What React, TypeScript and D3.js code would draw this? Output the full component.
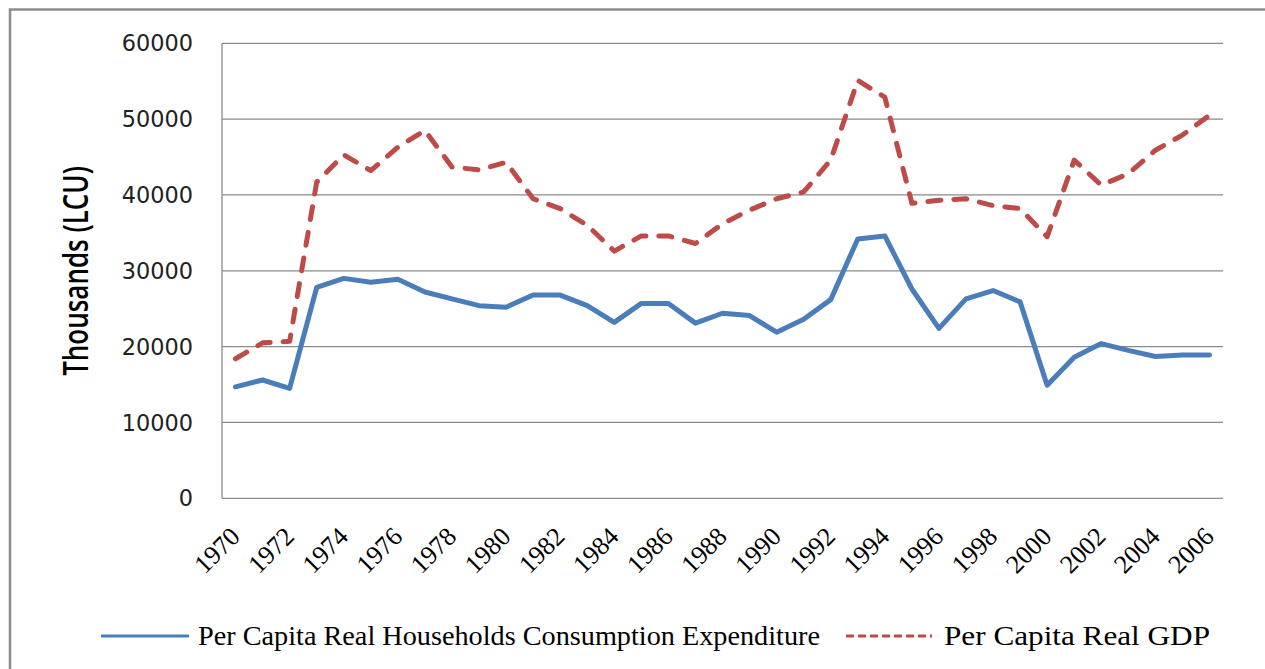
import React, { useEffect, useRef } from "react";
import * as d3 from "d3";

// years on the category axis
const years = [
  1970, 1971, 1972, 1973, 1974, 1975, 1976, 1977, 1978, 1979,
  1980, 1981, 1982, 1983, 1984, 1985, 1986, 1987, 1988, 1989,
  1990, 1991, 1992, 1993, 1994, 1995, 1996, 1997, 1998, 1999,
  2000, 2001, 2002, 2003, 2004, 2005, 2006,
];

// Per Capita Real Households Consumption Expenditure (thousands LCU)
const consumption = [
  14700, 15600, 14500, 27800, 29000, 28500, 28900, 27200, 26300, 25400,
  25200, 26800, 26800, 25400, 23200, 25700, 25700, 23100, 24400, 24100,
  21900, 23600, 26200, 34200, 34600, 27600, 22400, 26300, 27400, 25900,
  14900, 18600, 20400, 19500, 18700, 18900, 18900,
];

// Per Capita Real GDP (thousands LCU)
const gdp = [
  18400, 20500, 20700, 41700, 45300, 43200, 46300, 48500, 43700, 43300,
  44300, 39500, 38200, 36000, 32600, 34600, 34600, 33600, 36200, 38000,
  39500, 40400, 44600, 55100, 52900, 38900, 39300, 39500, 38600, 38200,
  34500, 44600, 41300, 42800, 45900, 47900, 50500,
];

const yTicks = [0, 10000, 20000, 30000, 40000, 50000, 60000];
const xLabelYears = [
  1970, 1972, 1974, 1976, 1978, 1980, 1982, 1984, 1986, 1988,
  1990, 1992, 1994, 1996, 1998, 2000, 2002, 2004, 2006,
];

const seriesNames = [
  "Per Capita Real Households Consumption Expenditure",
  "Per Capita Real GDP",
];

const W = 1265;
const H = 669;
const BLUE = "#4a7ebb";
const RED = "#be4b48";
const GRID = "#8a8a8a";
const SERIF = "'Liberation Serif', 'Times New Roman', Times, serif";

export default function App() {
  const svgRef = useRef<SVGSVGElement>(null);

  useEffect(() => {
    const svg = d3.select(svgRef.current);
    svg.selectAll("*").remove();

    // outer frame (runs off the right and bottom edge)
    svg.append("rect")
      .attr("x", 10).attr("y", 9.5)
      .attr("width", W + 20).attr("height", H + 20)
      .attr("fill", "#fff")
      .attr("stroke", "#8c8c8c")
      .attr("stroke-width", 2.5);

    const left = 222, right = 1223, top = 43.3, bottom = 498.3;

    const x = d3.scalePoint<number>().domain(years).range([left, right]).padding(0.5);
    const y = d3.scaleLinear().domain([0, 60000]).range([bottom, top]);

    // gridlines
    svg.append("g")
      .selectAll("line")
      .data(yTicks)
      .join("line")
      .attr("x1", left).attr("x2", right)
      .attr("y1", d => y(d)).attr("y2", d => y(d))
      .attr("stroke", GRID)
      .attr("stroke-width", 1.3);

    // value axis line
    svg.append("line")
      .attr("x1", left).attr("x2", left)
      .attr("y1", top).attr("y2", bottom)
      .attr("stroke", GRID)
      .attr("stroke-width", 1.3);

    // y tick labels
    svg.append("g")
      .selectAll("text")
      .data(yTicks)
      .join("text")
      .attr("x", 193)
      .attr("y", d => y(d))
      .attr("dy", "0.36em")
      .attr("text-anchor", "end")
      .attr("font-family", "DejaVu Sans")
      .attr("font-size", 22.4)
      .attr("fill", "#222")
      .text(d => String(d));

    // y axis title
    svg.append("text")
      .attr("transform", "translate(88,271) scale(1.3,1) rotate(-90)")
      .attr("text-anchor", "middle")
      .attr("font-family", "Open Sans")
      .attr("font-size", 26)
      .attr("font-weight", 600)
      .attr("fill", "#000")
      .text("Thousands (LCU)");

    // x labels, rotated
    svg.append("g")
      .selectAll("text")
      .data(xLabelYears)
      .join("text")
      .attr("transform", d => `translate(${(x(d) as number) + 6},538) rotate(-45)`)
      .attr("text-anchor", "end")
      .style("font-family", SERIF)
      .attr("font-size", 26)
      .attr("fill", "#000")
      .text(d => String(d));

    const line = d3.line<number>()
      .x((_, i) => x(years[i]) as number)
      .y(d => y(d));

    svg.append("path")
      .attr("d", line(consumption))
      .attr("fill", "none")
      .attr("stroke", BLUE)
      .attr("stroke-width", 5)
      .attr("stroke-linejoin", "round")
      .attr("stroke-linecap", "round");

    svg.append("path")
      .attr("d", line(gdp))
      .attr("fill", "none")
      .attr("stroke", RED)
      .attr("stroke-width", 5)
      .attr("stroke-dasharray", "13 13")
      .attr("stroke-linejoin", "round")
      .attr("stroke-linecap", "round");

    // legend
    const legend = [
      { name: seriesNames[0], color: BLUE, dash: null, x0: 101, x1: 189, tx: 198, tw: 622 },
      { name: seriesNames[1], color: RED, dash: "8 4", x0: 846, x1: 932, tx: 944, tw: 266 },
    ];
    const lg = svg.append("g");
    legend.forEach(l => {
      lg.append("line")
        .attr("x1", l.x0).attr("x2", l.x1)
        .attr("y1", 636).attr("y2", 636)
        .attr("stroke", l.color)
        .attr("stroke-width", 3)
        .attr("stroke-dasharray", l.dash);
      lg.append("text")
        .attr("x", l.tx)
        .attr("y", 645)
        .style("font-family", SERIF)
        .attr("font-size", 27)
        .attr("textLength", l.tw)
        .attr("lengthAdjust", "spacingAndGlyphs")
        .attr("fill", "#000")
        .text(l.name);
    });
  }, []);

  return (
    <svg
      ref={svgRef}
      width={W}
      height={H}
      style={{ position: "absolute", left: 0, top: 0, display: "block", background: "#fff" }}
    />
  );
}
